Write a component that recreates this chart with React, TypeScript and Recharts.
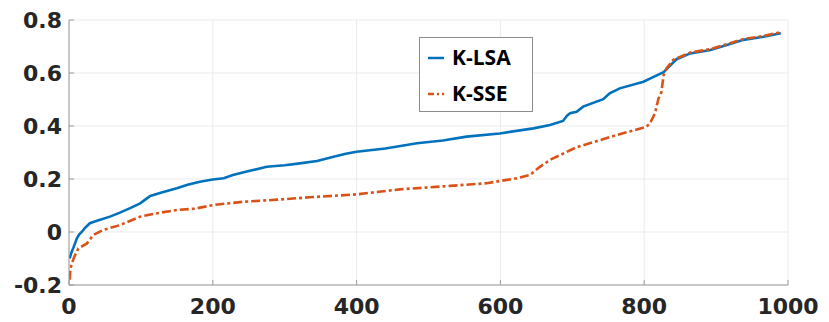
import { CartesianGrid, Line, LineChart, XAxis, YAxis } from "recharts";

// sorted scores
const lsaX = [1, 3, 6, 11, 14, 18, 22, 29, 40, 57, 70, 85, 99, 106, 113, 130, 150, 165, 182, 200, 215, 228, 250, 275, 300, 321, 345, 368, 385, 400, 440, 484, 520, 553, 599, 646, 669, 687, 693, 697, 706, 715, 743, 752, 766, 799, 808, 827, 835, 845, 864, 892, 915, 938, 966, 990];
const lsaY = [-0.1, -0.08, -0.06, -0.024, -0.01, 0.001, 0.015, 0.033, 0.043, 0.058, 0.072, 0.09, 0.108, 0.122, 0.136, 0.15, 0.165, 0.178, 0.19, 0.198, 0.203, 0.215, 0.23, 0.246, 0.252, 0.259, 0.268, 0.284, 0.295, 0.303, 0.315, 0.335, 0.345, 0.36, 0.372, 0.391, 0.404, 0.419, 0.44, 0.448, 0.454, 0.473, 0.501, 0.523, 0.542, 0.567, 0.579, 0.603, 0.625, 0.652, 0.674, 0.687, 0.706, 0.725, 0.737, 0.75];

const sseX = [1, 2, 4, 8, 13, 25, 34, 48, 71, 99, 127, 150, 175, 201, 242, 290, 335, 400, 460, 530, 581, 623, 641, 655, 669, 706, 762, 803, 808, 815, 820, 824, 827, 831, 840, 864, 892, 915, 938, 966, 990];
const sseY = [-0.18, -0.14, -0.118, -0.09, -0.062, -0.043, -0.011, 0.008, 0.026, 0.058, 0.073, 0.083, 0.088, 0.102, 0.114, 0.122, 0.131, 0.142, 0.161, 0.174, 0.184, 0.203, 0.215, 0.246, 0.272, 0.32, 0.366, 0.397, 0.41, 0.448, 0.505, 0.529, 0.592, 0.617, 0.649, 0.677, 0.69, 0.709, 0.728, 0.74, 0.754];

const xTicks = [0, 200, 400, 600, 800, 1000];
const yTicks = [-0.2, 0, 0.2, 0.4, 0.6, 0.8];

const lsaData = lsaX.map((x, i) => ({ x, y: lsaY[i] }));
const sseData = sseX.map((x, i) => ({ x, y: sseY[i] }));

const BLUE = "#0072BD";
const ORANGE = "#D95319";
const AXIS = "#9a9a9a";
const tickStyle = { fill: "#262626", fontSize: 22, fontWeight: 700, fontFamily: "DejaVu Sans" };
const hidden = { fill: "transparent", fontSize: 1 };

function LegendBox() {
  const rows = [
    { name: "K-LSA", color: BLUE, dash: undefined },
    { name: "K-SSE", color: ORANGE, dash: "6 3 2 3" }
  ];
  return (
    <div
      style={{
        position: "absolute",
        left: 419,
        top: 37,
        width: 112,
        height: 73,
        border: "1px solid #8c8c8c",
        background: "#fff",
        fontFamily: "Open Sans",
        fontWeight: 700,
        fontSize: 21,
        color: "#000"
      }}
    >
      {rows.map((r, i) => (
        <div key={r.name} style={{ position: "absolute", left: 8, top: i === 0 ? 5 : 41, display: "flex", alignItems: "center" }}>
          <svg width={16} height={28}>
            <line x1={0} x2={16} y1={15} y2={15} stroke={r.color} strokeWidth={2.5} strokeDasharray={r.dash} />
          </svg>
          <span style={{ marginLeft: 8, lineHeight: "28px" }}>{r.name}</span>
        </div>
      ))}
    </div>
  );
}

export default function App() {
  return (
    <div style={{ position: "absolute", left: 0, top: 0, width: 829, height: 322, background: "#fff" }}>
      <LineChart width={829} height={322} margin={{ top: 20, right: 41, bottom: 0, left: 0 }}>
        <CartesianGrid stroke="#ebebeb" />
        <XAxis
          type="number"
          dataKey="x"
          domain={[0, 1000]}
          ticks={xTicks}
          height={37}
          tickSize={-5}
          tickMargin={18}
          tickLine={{ stroke: AXIS }}
          axisLine={{ stroke: AXIS }}
          tick={tickStyle}
          allowDataOverflow
        />
        <XAxis
          xAxisId="top"
          orientation="top"
          type="number"
          domain={[0, 1000]}
          ticks={xTicks}
          height={0}
          tickSize={-5}
          tickLine={{ stroke: AXIS }}
          axisLine={{ stroke: AXIS }}
          tick={hidden}
          allowDataOverflow
        />
        <YAxis
          type="number"
          dataKey="y"
          domain={[-0.2, 0.8]}
          ticks={yTicks}
          width={69}
          tickSize={-5}
          tickMargin={12}
          tickLine={{ stroke: AXIS }}
          axisLine={{ stroke: AXIS }}
          tick={tickStyle}
          tickFormatter={(v: number) => (v === 0 ? "0" : String(Number(v.toFixed(1))))}
          allowDataOverflow
        />
        <YAxis
          yAxisId="right"
          orientation="right"
          type="number"
          domain={[-0.2, 0.8]}
          ticks={yTicks}
          width={0}
          tickSize={-5}
          tickLine={{ stroke: AXIS }}
          axisLine={{ stroke: AXIS }}
          tick={hidden}
          allowDataOverflow
        />
        <Line
          data={lsaData}
          dataKey="y"
          name="K-LSA"
          type="linear"
          stroke={BLUE}
          strokeWidth={2.6}
          dot={false}
          isAnimationActive={false}
        />
        <Line
          data={sseData}
          dataKey="y"
          name="K-SSE"
          type="linear"
          stroke={ORANGE}
          strokeWidth={2.6}
          strokeDasharray="9 3 3 3"
          dot={false}
          isAnimationActive={false}
        />
      </LineChart>
      <LegendBox />
    </div>
  );
}
